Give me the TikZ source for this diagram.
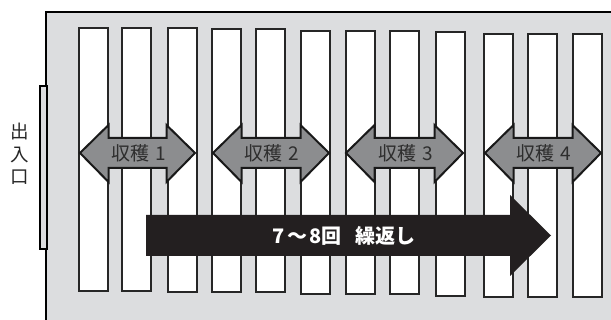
\documentclass[tikz,border=0pt]{standalone}
\usepackage{fontspec}
\newfontfamily\cjk{Noto Sans CJK JP}
\definecolor{bggray}{HTML}{DCDDDF}
\definecolor{arrgray}{HTML}{8C8D8F}
\definecolor{txtgray}{HTML}{2E2E2E}
\definecolor{darkfill}{HTML}{231F20}
\tikzset{
  outerbox/.style={fill=bggray, draw=black, line width=1.4pt},
  doorbox/.style={fill=bggray, draw=black, line width=1.3pt},
  bedbox/.style={fill=white, draw=black!85, line width=1.5pt},
  harvest/.style={fill=arrgray, draw=black!90, line width=2pt, line join=miter},
  bigarrow/.style={fill=darkfill, draw=none},
  hlabel/.style={font=\cjk\fontsize{19}{19}\selectfont, text=txtgray, inner sep=0pt},
  blabel/.style={font=\cjk\bfseries\fontsize{20}{20}\selectfont, text=white, inner sep=0pt},
  doorlabel/.style={font=\cjk\fontsize{18.5}{22.5}\selectfont, text=black!85, align=center, inner sep=0pt}
}
\begin{document}
\begin{tikzpicture}[x=1pt,y=-1pt]
\useasboundingbox (0,0) rectangle (611,320);
\clip (0,0) rectangle (611,320);
% field
\draw[outerbox] (46,12) rectangle (640,340);
% door
\draw[doorbox] (40,86) rectangle (47,249);
\node[doorlabel] (door) at (20,154) {出\\入\\口};
% beds
\foreach \xl/\yt/\yb [count=\i] in {79/28/291, 122/28/291, 168/28/292, 212/29/292, 256/29/292, 301/31/294, 346/31/294, 390/31/294, 436/32/296, 484/34/297, 528/34/297, 573/34/297}{
  \draw[bedbox] (\xl,\yt) rectangle ++(29,\yb-\yt);
}
% big arrow
\fill[bigarrow] (146,215) -- (510,215) -- (510,195) -- (551,235.5) -- (510,276) -- (510,256) -- (146,256) -- cycle;
\node[blabel] (rep) at (344,236) {7\hspace{2pt}〜\hspace{2pt}8回\hspace{0.7em}繰返し};
% harvest arrows
\foreach \a/\b/\n/\nm in {80/195/1/h1, 213/329/2/h2, 346/463/3/h3, 485/601/4/h4}{
  \draw[harvest] (\a,153) -- (\a+28.5,125) -- (\a+28.5,138) -- (\b-28.5,138) -- (\b-28.5,125) -- (\b,153) -- (\b-28.5,182) -- (\b-28.5,168) -- (\a+28.5,168) -- (\a+28.5,182) -- cycle;
  \node[hlabel] (\nm) at ({(\a+\b)/2+1},153) {収穫\hspace{6pt}\n};
}
\end{tikzpicture}
\end{document}
